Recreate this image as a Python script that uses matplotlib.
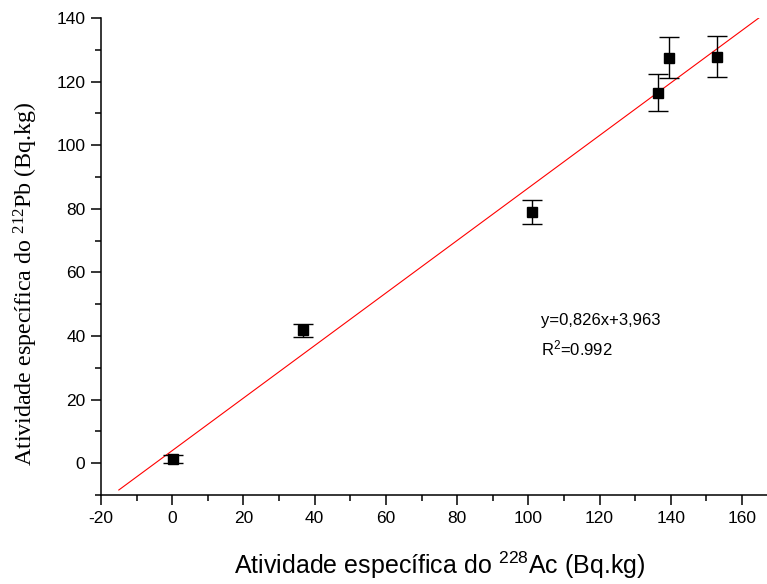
import matplotlib
matplotlib.use("Agg")
import matplotlib.pyplot as plt
import numpy as np
from matplotlib.ticker import MultipleLocator

# Specific activities (Bq.kg)
ac228 = [0.3, 36.7, 101.0, 136.4, 139.6, 153.1]
pb212 = [1.3, 41.8, 79.0, 116.5, 127.5, 127.8]
pb212_err = [1.2, 2.0, 3.8, 5.8, 6.4, 6.4]

# Linear fit parameters
slope = 0.826
intercept = 3.963
r2 = 0.992
fit_x = [-15, 165]

x_ticks = [-20, 0, 20, 40, 60, 80, 100, 120, 140, 160]
y_ticks = [0, 20, 40, 60, 80, 100, 120, 140]

plt.rcParams["axes.unicode_minus"] = False

W, H = 767, 584
fig = plt.figure(figsize=(W / 100, H / 100), dpi=100)
ax = fig.add_axes([101 / W, 1 - 495 / H, (W - 101) / W, (495 - 18) / H])

sans = "Liberation Sans"
serif = "Liberation Serif"

fx = np.array(fit_x, dtype=float)
ax.plot(fx, slope * fx + intercept, color="red", lw=0.8, zorder=2)

ax.errorbar(ac228, pb212, yerr=pb212_err, fmt="s", color="black",
            ms=6.5, ecolor="black", elinewidth=1.0, capsize=7.2,
            capthick=1.0, zorder=3)

ax.set_xlim(-20, 167)
ax.set_ylim(-10, 140)
ax.set_xticks(x_ticks)
ax.set_yticks(y_ticks)
ax.xaxis.set_minor_locator(MultipleLocator(10))
ax.yaxis.set_minor_locator(MultipleLocator(10))

for side in ("top", "right"):
    ax.spines[side].set_visible(False)
for side in ("left", "bottom"):
    ax.spines[side].set_linewidth(1.1)

ax.tick_params(which="major", direction="out", length=7.2, width=1.1,
               labelsize=12.5, pad=4)
ax.tick_params(which="minor", direction="out", length=4.3, width=1.1)
for lab in ax.get_xticklabels() + ax.get_yticklabels():
    lab.set_fontfamily(sans)

ax.set_xlabel(r"Atividade específica do $\mathdefault{^{228}}$Ac (Bq.kg)",
              fontsize=18, fontfamily=sans, labelpad=17)
ax.xaxis.label.set_x(0.509)
ax.set_ylabel(r"Atividade específica do $\mathdefault{^{212}}$Pb (Bq.kg)",
              fontsize=17.3, fontfamily=serif)
ax.yaxis.set_label_coords(-0.091, 0.444)

eq = "y={}x+{}".format(f"{slope:.3f}".replace(".", ","),
                       f"{intercept:.3f}".replace(".", ","))
ax.text(103.6, 45, eq, fontsize=12, fontfamily=sans, va="center", ha="left")
ax.text(103.6, 36, rf"R$\mathdefault{{^2}}$={r2:.3f}",
        fontsize=12, fontfamily=sans, va="center", ha="left")

fig.savefig("out.png", dpi=100)
